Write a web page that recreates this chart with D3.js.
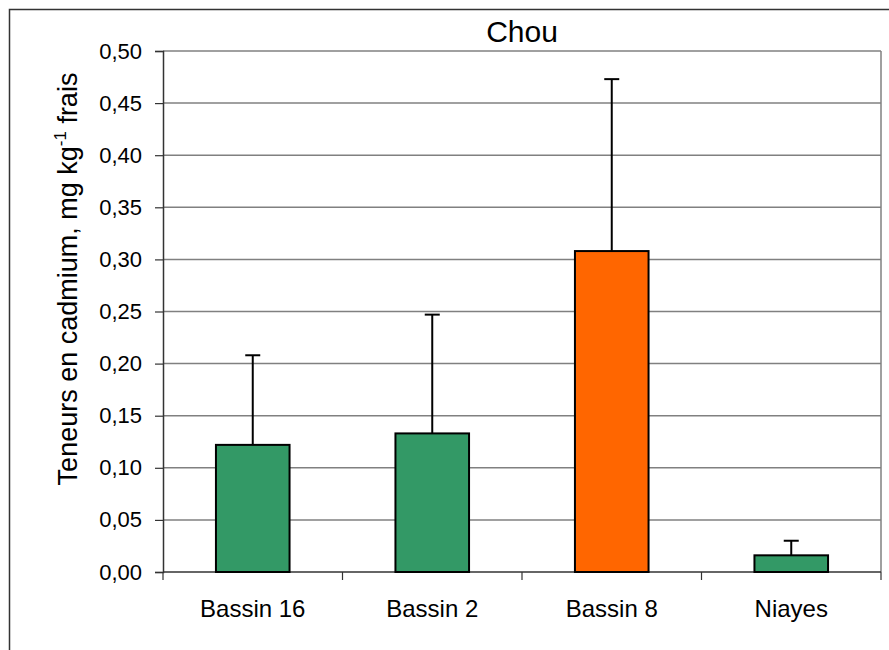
<!DOCTYPE html>
<html>
<head>
<meta charset="utf-8">
<script src="https://cdn.jsdelivr.net/npm/d3@7"></script>
<style>
  body { margin: 0; background: #fff; }
  svg { display: block; font-family: "Liberation Sans", Arial, sans-serif; }
</style>
</head>
<body>
<svg id="chart" width="889" height="650"></svg>
<script>
const categories = ["Bassin 16", "Bassin 2", "Bassin 8", "Niayes"];
const means = [0.122, 0.133, 0.308, 0.016];
const errTops = [0.208, 0.247, 0.473, 0.030];
const barColors = ["#339966", "#339966", "#FF6600", "#339966"];
const yTicks = [0, 0.05, 0.10, 0.15, 0.20, 0.25, 0.30, 0.35, 0.40, 0.45, 0.50];

const svg = d3.select("#chart");
const margin = { left: 163, right: 8, top: 51, bottom: 78 };
const W = 889, H = 650;

// outer frame, runs off the right and bottom edges like the original
svg.append("rect")
    .attr("x", 9.5).attr("y", 9.5)
    .attr("width", 900).attr("height", 700)
    .attr("fill", "none").attr("stroke", "#333").attr("stroke-width", 1.5);

const x = d3.scaleBand().domain(categories)
    .range([margin.left, W - margin.right]).paddingInner(0).paddingOuter(0);
const y = d3.scaleLinear().domain([0, 0.5]).range([H - margin.bottom, margin.top]);

// gridlines
svg.append("g").selectAll("line")
    .data(yTicks.filter(d => d > 0))
    .join("line")
    .attr("x1", margin.left).attr("x2", W - margin.right)
    .attr("y1", d => y(d)).attr("y2", d => y(d))
    .attr("stroke", "#808080").attr("stroke-width", 1.5);

// right border of plot area
svg.append("line")
    .attr("x1", W - margin.right).attr("x2", W - margin.right)
    .attr("y1", y(0.5)).attr("y2", y(0))
    .attr("stroke", "#808080").attr("stroke-width", 1.5);

const fmt = d => d3.format(".2f")(d).replace(".", ",");

const yAxis = svg.append("g")
    .attr("transform", `translate(${margin.left},0)`)
    .call(d3.axisLeft(y).tickValues(yTicks).tickFormat(fmt).tickSize(8).tickPadding(13));
yAxis.select(".domain").attr("stroke", "#333").attr("stroke-width", 1.5);
yAxis.selectAll(".tick line").attr("stroke", "#333").attr("stroke-width", 1.2);
yAxis.selectAll("text").attr("font-size", 22).attr("fill", "#000")
    .attr("font-family", "Liberation Sans, Arial, sans-serif");

// x axis: ticks at band boundaries
const xAxis = svg.append("g");
xAxis.append("line")
    .attr("x1", margin.left).attr("x2", W - margin.right)
    .attr("y1", y(0)).attr("y2", y(0))
    .attr("stroke", "#333").attr("stroke-width", 1.5);
const bounds = categories.map(c => x(c)).concat([x(categories[categories.length - 1]) + x.bandwidth()]);
xAxis.selectAll("line.tk").data(bounds).join("line").attr("class", "tk")
    .attr("x1", d => d).attr("x2", d => d)
    .attr("y1", y(0)).attr("y2", y(0) + 8)
    .attr("stroke", "#333").attr("stroke-width", 1.2);
xAxis.selectAll("text").data(categories).join("text")
    .attr("x", d => x(d) + x.bandwidth() / 2)
    .attr("y", y(0) + 45)
    .attr("text-anchor", "middle")
    .attr("font-size", 24)
    .text(d => d);

// bars
const bw = x.bandwidth() * 0.41;
const data = categories.map((c, i) => ({ c, m: means[i], e: errTops[i], col: barColors[i] }));

svg.append("g").selectAll("line")
    .data(data).join("line")
    .attr("x1", d => x(d.c) + x.bandwidth() / 2).attr("x2", d => x(d.c) + x.bandwidth() / 2)
    .attr("y1", d => y(d.m)).attr("y2", d => y(d.e))
    .attr("stroke", "#000").attr("stroke-width", 2);
svg.append("g").selectAll("line")
    .data(data).join("line")
    .attr("x1", d => x(d.c) + x.bandwidth() / 2 - 7.5).attr("x2", d => x(d.c) + x.bandwidth() / 2 + 7.5)
    .attr("y1", d => y(d.e)).attr("y2", d => y(d.e))
    .attr("stroke", "#000").attr("stroke-width", 2);

svg.append("g").selectAll("rect")
    .data(data).join("rect")
    .attr("x", d => x(d.c) + (x.bandwidth() - bw) / 2)
    .attr("y", d => y(d.m))
    .attr("width", bw)
    .attr("height", d => y(0) - y(d.m))
    .attr("fill", d => d.col)
    .attr("stroke", "#000").attr("stroke-width", 2);

// title
svg.append("text")
    .attr("x", (margin.left + W - margin.right) / 2)
    .attr("y", 42)
    .attr("text-anchor", "middle")
    .attr("font-size", 30)
    .text("Chou");

// y label with superscript
const yl = svg.append("text")
    .attr("transform", `translate(77,279) rotate(-90)`)
    .attr("text-anchor", "middle")
    .attr("font-size", 27);
yl.append("tspan").text("Teneurs en cadmium, mg kg");
yl.append("tspan").attr("font-size", 17).attr("dy", -11).text("-1");
yl.append("tspan").attr("dy", 11).text(" frais");
</script>
</body>
</html>
